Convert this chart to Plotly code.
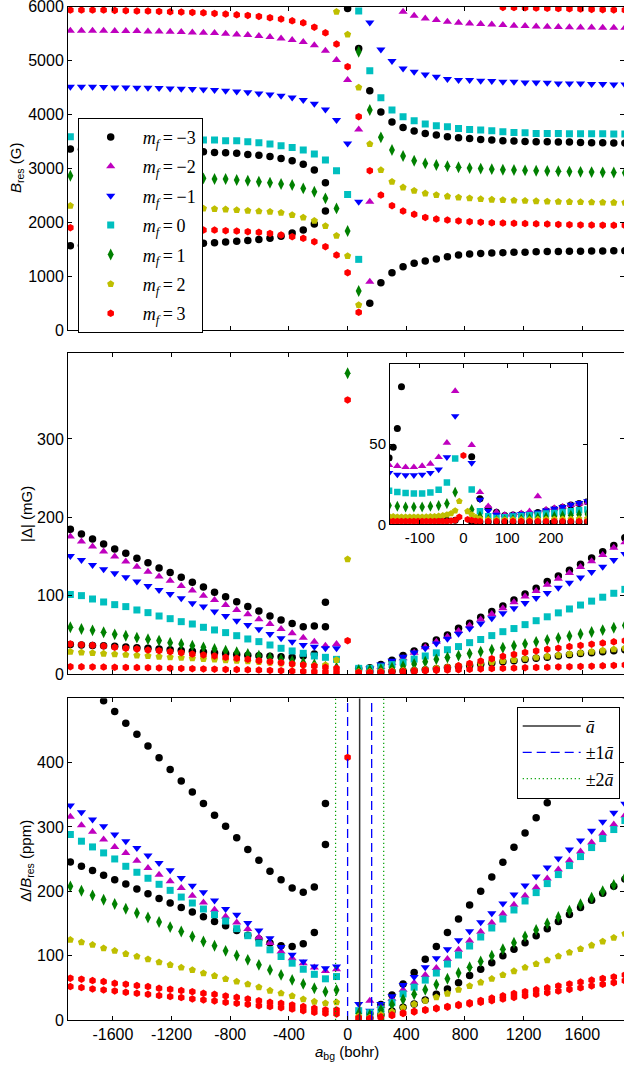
import plotly.graph_objects as go

N = None

# a_bg grid (bohr)
a_bg = [-1890.0, -1814.4, -1738.8, -1663.2, -1587.6, -1512.0, -1436.4, -1360.8, -1285.2, -1209.6,
        -1134.0, -1058.4, -982.8, -907.2, -831.6, -756.0, -680.4, -604.8, -529.2, -453.6,
        -378.0, -302.4, -226.8, -151.2, -75.6, 0.0, 75.6, 151.2, 226.8, 302.4,
        378.0, 453.6, 529.2, 604.8, 680.4, 756.0, 831.6, 907.2, 982.8, 1058.4,
        1134.0, 1209.6, 1285.2, 1360.8, 1436.4, 1512.0, 1587.6, 1663.2, 1738.8, 1814.4, 1890.0]

# ---------------- top panel: B_res (G) ----------------
B_m3_a = [3358, 3355, 3352, 3349, 3346, 3343, 3340, 3337, 3333, 3328, 3322, 3315, 3308, 3296, 3290, 3278, 3259, 3241, 3220, 3185,
          3140, 3078, 2968, 2733, N, 5968, 5226, 4440, 4045, 3859, 3760, 3692, 3649, 3618, 3587, 3568, 3556, 3537, 3525, 3513,
          3506, 3500, 3494, 3494, 3488, 3488, 3482, 3476, 3476, 3470, 3469]
B_m3_b = [1565, 1570, 1572, 1575, 1578, 1580, 1583, 1587, 1590, 1595, 1600, 1605, 1608, 1620, 1633, 1645, 1660, 1680, 1701, 1740,
          1800, 1855, 1966, 2208, N, N, N, 495, 878, 1063, 1175, 1237, 1280, 1317, 1361, 1391, 1410, 1422, 1428, 1435,
          1441, 1445, 1453, 1455, 1457, 1460, 1462, 1465, 1467, 1470, 1472]
B_m2_a = [5553, 5553, 5553, 5553, 5547, 5547, 5547, 5541, 5541, 5535, 5529, 5522, 5516, 5510, 5498, 5485, 5473, 5455, 5436, 5411,
          5380, 5345, 5285, 5182, 5009, 4638, 3723, 2381, N, N, N, N, N, N, N, N, N, N, N, N,
          N, N, N, N, N, N, N, N, N, N, N]
B_m2_b = [N, N, N, N, N, N, N, N, N, N, N, N, N, N, N, N, N, N, N, N,
          N, N, N, N, N, N, N, 897, N, N, 5906, 5832, 5782, 5751, 5720, 5702, 5690, 5677, 5671, 5659,
          5646, 5640, 5634, 5628, 5622, 5618, 5615, 5612, 5610, 5609, 5608]
B_m1_a = [4515, 4515, 4515, 4508, 4502, 4502, 4496, 4496, 4490, 4484, 4477, 4471, 4465, 4453, 4440, 4428, 4410, 4391, 4372, 4348,
          4317, 4270, 4200, 4094, 3896, 3463, 2381, N, N, N, N, N, N, N, N, N, N, N, N, N,
          N, N, N, N, N, N, N, N, N, N, N]
B_m1_b = [N, N, N, N, N, N, N, N, N, N, N, N, N, N, N, N, N, N, N, N,
          N, N, N, N, N, N, N, 5708, 5207, 4991, 4855, 4793, 4743, 4700, 4657, 4638, 4638, 4626, 4620, 4607,
          4607, 4595, 4595, 4589, 4576, 4576, 4576, 4564, 4564, 4558, 4555]
B_0_a = [3587, 3583, 3580, 3577, 3573, 3570, 3565, 3560, 3555, 3548, 3540, 3532, 3525, 3525, 3513, 3513, 3494, 3476, 3451, 3420,
         3389, 3340, 3265, 3154, 2956, 2517, 1311, N, N, N, N, N, N, N, N, N, N, N, N, N,
         N, N, N, N, N, N, N, N, N, N, N]
B_0_b = [N, N, N, N, N, N, N, N, N, N, N, N, N, N, N, N, N, N, N, N,
         N, N, N, N, N, N, 5918, 4811, 4310, 4082, 3958, 3884, 3822, 3791, 3772, 3741, 3723, 3711, 3698, 3680,
         3667, 3661, 3649, 3649, 3649, 3643, 3643, 3643, 3640, 3636, 3636]
B_p1_a = [2863, 2860, 2857, 2854, 2850, 2847, 2843, 2839, 2834, 2829, 2824, 2819, 2814, 2801, 2801, 2783, 2770, 2752, 2733, 2709,
          2690, 2628, 2566, 2443, 2257, 1837, 723, N, N, N, N, N, N, N, N, N, N, N, N, N,
          N, N, N, N, N, N, N, N, N, N, N]
B_p1_b = [N, N, N, N, N, N, N, N, N, N, N, N, N, N, N, N, N, N, N, N,
          N, N, N, N, N, N, 5164, 4082, 3575, 3340, 3228, 3141, 3092, 3061, 3040, 3020, 3005, 2995, 2985, 2975,
          2968, 2962, 2955, 2950, 2945, 2940, 2935, 2930, 2926, 2922, 2919]
B_p2_a = [2307, 2303, 2300, 2297, 2294, 2290, 2286, 2282, 2278, 2273, 2268, 2263, 2257, 2245, 2239, 2226, 2214, 2203, 2195, 2177,
          2134, 2090, 2028, 1930, 1750, 1373, 464, N, N, N, N, N, N, N, N, N, N, N, N, N,
          N, N, N, N, N, N, N, N, N, N, N]
B_p2_b = [N, N, N, N, N, N, N, N, N, N, N, N, N, N, N, N, N, N, N, N,
          N, N, N, N, 5906, 5485, 4502, 3451, 2968, 2752, 2647, 2585, 2536, 2505, 2480, 2460, 2445, 2430, 2420, 2412,
          2405, 2398, 2392, 2387, 2382, 2378, 2374, 2370, 2367, 2364, 2362]
B_p3_a = [5937, 5937, 5937, 5937, 5931, 5925, 5918, 5918, 5912, 5906, 5900, 5894, 5887, 5875, 5863, 5850, 5838, 5819, 5795, 5770,
          5739, 5700, 5620, 5516, 5306, 4886, 3958, 2956, 2505, 2307, 2208, 2146, 2090, 2059, 2040, 2025, 2010, 2000, 1990, 1985,
          1980, 1975, 1970, 1965, 1960, 1955, 1950, 1948, 1945, 1942, 1940]
B_p3_b = [1899, 1895, 1892, 1890, 1887, 1884, 1880, 1877, 1873, 1869, 1865, 1860, 1855, 1855, 1843, 1837, 1824, 1812, 1793, 1763,
          1732, 1701, 1639, 1546, 1391, 1064, 328, N, N, N, N, N, N, N, N, N, N, N, N, 5987,
          5985, 5980, 5975, 5970, 5965, 5960, 5955, 5950, 5945, 5940, 5937]

# ---------------- middle panel: |Delta| (mG) ----------------
D_m3_a = [184.7, 178.7, 172.3, 166, 159.6, 154, 147.7, 142, 135.3, 129.4, 123.4, 117, 111, 104.3, 98.7, 92.3, 86, 80.4, 74, 69,
          64.3, 60.4, 61.3, 60.4, N, N, 7, 8, 12, 17.5, 23.5, 29.5, 35.7, 43.4, 49.8, 58.3, 64.7, 72.3, 79.6, 86.8,
          94.5, 102, 109.4, 117.9, 125, 132.5, 140, 148, 156, 164, 174]
D_m3_b = [37.5, 37, 36.5, 36, 35.3, 34.5, 33.6, 32.7, 31.8, 30.9, 30, 29, 28, 27, 26, 25, 24, 23.2, 22.5, 22,
          21.5, 23, 25.5, 91.5, N, N, N, 2.5, 3, 3.5, 4, 4.6, 5.5, 6.8, 8.2, 9.6, 11, 12.5, 14, 15.5,
          17, 18.5, 20, 21.5, 23, 24.5, 26, 27.2, 28.4, 29.6, 30.8]
D_m2_a = [175.3, 169, 162.6, 156.2, 149.8, 143.4, 137, 130.6, 124.3, 119, 112.3, 106.4, 100, 94.5, 88, 81.7, 76.2, 69.8, 63.8, 57.4,
          52, 46.4, 41.3, 36, 38.3, N, N, N, N, N, N, N, N, N, N, N, N, N, N, N,
          N, N, N, N, N, N, N, N, N, N, N]
D_m2_b = [N, N, N, N, N, N, N, N, N, N, N, N, N, N, N, N, N, N, N, N,
          N, N, N, N, N, N, N, 6, 9, 14, 20, 27, 34, 41, 47.5, 55, 62, 69.5, 76.5, 84,
          91.5, 99, 106, 114, 121.5, 129, 136.5, 144, 152, 161, 168]
D_m1_a = [150.6, 145.5, 139, 133.6, 128.5, 123.4, 117.9, 112.3, 107.2, 102, 96.6, 90.2, 86, 79.6, 74, 68, 62.6, 57, 51, 45.5,
          41.3, 37, 34.9, 32.8, 32.8, N, N, N, N, N, N, N, N, N, N, N, N, N, N, N,
          N, N, N, N, N, N, N, N, N, N, N]
D_m1_b = [N, N, N, N, N, N, N, N, N, N, N, N, N, N, N, N, N, N, N, N,
          N, N, N, N, N, N, N, 7, 12, 17, 22, 27.5, 33, 39, 45, 51.5, 58, 64.5, 71, 77.5,
          84, 90.5, 97, 103.5, 110, 116.5, 123, 130, 137, 145.5, 153]
D_0_a = [101.5, 100, 95.7, 91.9, 88.5, 86, 81.7, 78.3, 74, 70.6, 66.8, 63.8, 59.6, 56.2, 52.8, 48.9, 44.7, 41.3, 37, 32.8,
         29.4, 26.4, 23, 21.3, 18.7, N, N, N, N, N, N, N, N, N, N, N, N, N, N, N,
         N, N, N, N, N, N, N, N, N, N, N]
D_0_b = [N, N, N, N, N, N, N, N, N, N, N, N, N, N, N, N, N, N, N, N,
         N, N, N, N, N, N, 7.2, 7.2, 9, 12, 15, 19, 23, 27, 31, 35, 40, 44, 49, 54,
         58, 63, 68, 73, 78, 83, 88, 93, 98, 103, 108]
D_p1_a = [59.6, 57.4, 55.7, 53.2, 50.6, 48.9, 46.4, 44.3, 42.6, 40, 38.3, 36.2, 34, 31.9, 29.8, 27.7, 25.5, 23.4, 20.9, 18.7,
          16.6, 14.5, 12.3, 9.4, 8.1, 383.8, N, N, N, N, N, N, N, N, N, N, N, N, N, N,
          N, N, N, N, N, N, N, N, N, N, N]
D_p1_b = [N, N, N, N, N, N, N, N, N, N, N, N, N, N, N, N, N, N, N, N,
          N, N, N, N, N, N, 5, 5, 6, 8, 10, 12.8, 15.7, 18.7, 21, 23.5, 26, 28.5, 31, 33.5,
          36, 38.5, 41, 43.5, 46, 48.5, 51, 53.5, 56, 59, 62]
D_p2_a = [28.5, 27.5, 26.8, 26, 25.3, 24.5, 23.8, 23, 22.2, 21.5, 20.7, 20, 19.2, 18.5, 17.7, 17, 16.2, 15.5, 14.5, 13.5,
          12.5, 11.5, 11, 11.5, 17.9, 146.4, N, N, N, N, N, N, N, N, N, N, N, N, N, N,
          N, N, N, N, N, N, N, N, N, N, N]
D_p2_b = [N, N, N, N, N, N, N, N, N, N, N, N, N, N, N, N, N, N, N, N,
          N, N, N, N, N, N, 3, 3, 3.5, 4, 4.5, 5, 6, 7.5, 9, 10.5, 12, 13.5, 15, 16.5,
          18, 19.5, 21, 22.5, 24, 25.5, 27, 28.5, 30, 31.5, 33]
D_p3_a = [38.3, 37.4, 36.6, 35.7, 34, 32.8, 31.9, 30.6, 29.8, 28.5, 27.2, 25.5, 24.3, 23, 21.3, 20, 18.7, 17, 15.7, 14.5,
          12.8, 11.5, 10.2, 8.5, 7.2, 349.8, 2, 2, 2.5, 3, 3.5, 4, 5, 6, 8, 10.5, 13.5, 16.5, 19.5, 22.5,
          25, 27.5, 29.5, 31.5, 33, 35, 36.5, 38, 39.5, 41, 42.5]
D_p3_b = [9.4, 9.2, 9.0, 8.8, 8.6, 8.4, 8.2, 8.0, 7.7, 7.4, 7.1, 6.8, 6.5, 6.2, 5.9, 5.6, 5.3, 5.0, 4.6, 4.2,
          3.8, 3.4, 3.0, 2.6, 2.2, 42.5, 1.5, 1.5, 2, 2.5, 3, 3.5, 4, 4.5, 5, 5.5, 6, 6.5, 7, 7.2,
          7.5, 8, 8.3, 8.6, 9, 9.3, 9.7, 10, 10.5, 11, 11.5]

# ---------------- bottom panel: Delta/B_res (ppm) ----------------
R_m3_a = [549, 531, 514, 496, 479.4, 461.2, 444, 425.9, 407.7, 389.5, 371.4, 354.2, 336.6, 318.4, 301.2, 283.1, 264.9, 248.3, 231.1, 218.1,
          205.2, 198.4, 206.7, 272.7, N, N, N, 10, 24, 39, 56.1, 73.8, 94.5, 114.3, 136, 156.9, 178.7, 200, 222.3, 245.1,
          268.5, 290.8, 314.2, 337.6, 360, 383, 406, 429, 452, 480, 505]
R_m3_b = [245.7, 238.9, 232.2, 224.9, 218.1, 211.4, 203.6, 196.3, 189, 181.8, 175, 167.8, 160.5, 153.2, 146.5, 139.2, 131.9, 125.7, 119.5, 115.3,
          114.3, 118.4, 136.1, 336.6, N, N, N, 3, 8, 14, 20, 25, 31, 40, 48, 58, 69, 79, 89, 100,
          110, 120, 131, 142, 153, 164, 175, 186, 197, 208, 219]
R_m2_a = [315.8, 302.8, 292.4, 280.5, 269, 259.7, 247.7, 236.3, 225.9, 215.5, 205.2, 193.2, 182.8, 171.4, 161, 151.7, 141.3, 128.8, 119.5, 106.5,
          96.1, 88.3, 81.5, 76, 79, N, N, N, N, N, N, N, N, N, N, N, N, N, N, N,
          N, N, N, N, N, N, N, N, N, N, N]
R_m2_b = [N, N, N, N, N, N, N, N, N, N, N, N, N, N, N, N, N, N, N, N,
          N, N, N, N, N, N, N, 30, 22, 33, 47, 58, 70, 81, 95, 109, 123, 137, 151, 165,
          179, 193, 206, 220, 234, 248, 262, 276, 290, 304, 318]
R_m1_a = [333.4, 323, 311.6, 301.2, 288.3, 277.9, 267.5, 255.5, 244.1, 232.7, 220.7, 208.8, 198.4, 185.9, 172.4, 163.6, 150.6, 139.2, 127.2, 113.6,
          101.3, 90.9, 83.1, 80.5, 83, N, 25, N, N, N, N, N, N, N, N, N, N, N, N, N,
          N, N, N, N, N, N, N, N, N, N, N]
R_m1_b = [N, N, N, N, N, N, N, N, N, N, N, N, N, N, N, N, N, N, N, N,
          N, N, N, N, N, N, N, 14.5, 25, 37, 54.5, 67, 82, 96, 110, 124, 138, 152, 166, 181,
          195, 209, 223, 237, 251, 265, 279, 294, 308, 322, 336]
R_0_a = [288.3, 277.9, 269, 259.7, 250.3, 238.9, 229.6, 220.3, 210.9, 201.5, 191.1, 181.8, 172.5, 163.6, 153.8, 142, 131, 119.5, 109.1, 98.7,
         88.3, 78.9, 71, 64, 67.5, N, N, N, N, N, N, N, N, N, N, N, N, N, N, N,
         N, N, N, N, N, N, N, N, N, N, N]
R_0_b = [N, N, N, N, N, N, N, N, N, N, N, N, N, N, N, N, N, N, N, N,
         N, N, N, N, N, N, 14.5, 11.4, 16.6, 27, 40.5, 51, 62, 73, 87, 101, 115, 129, 143, 157,
         171, 185, 198, 212, 226, 240, 254, 268, 282, 296, 310]
R_p1_a = [207.7, 201, 193.7, 187, 180.2, 173, 166.2, 159.4, 152.2, 144.4, 137.6, 129.8, 122, 115.3, 107.5, 100.3, 93.5, 85.7, 77.9, 70.1,
          62.3, 56.1, 49.3, 44.1, 46.7, N, N, N, N, N, N, N, N, N, N, N, N, N, N, N,
          N, N, N, N, N, N, N, N, N, N, N]
R_p1_b = [N, N, N, N, N, N, N, N, N, N, N, N, N, N, N, N, N, N, N, N,
          N, N, N, N, N, N, 10, 8, 16, 24, 32, 40, 47, 55, 64, 73, 82, 91, 100, 110,
          120, 130, 140, 150, 160, 170, 180, 190, 200, 210, 221]
R_p2_a = [124.6, 121, 116.9, 111.7, 107.5, 102.8, 98.7, 94.5, 89.9, 85.7, 81.5, 77.9, 72.7, 68.6, 63.9, 59.7, 55.6, 50.9, 45.7, 41.5,
          37.4, 32.2, 28.6, 26, 27.5, N, N, N, N, N, N, N, N, N, N, N, N, N, N, N,
          N, N, N, N, N, N, N, N, N, N, N]
R_p2_b = [N, N, N, N, N, N, N, N, N, N, N, N, N, N, N, N, N, N, N, N,
          N, N, N, N, N, N, 6, 4, 8, 13, 19, 24.5, 30, 35.5, 41, 47, 53, 58.5, 64, 70,
          76, 81.5, 87, 93, 99, 105, 110.5, 116, 122, 128, 134]
R_p3_a = [64.9, 63.4, 61.3, 59.7, 57.1, 55.6, 53.5, 51.9, 49.3, 47.8, 45.7, 44.1, 41.5, 40, 37.4, 35.3, 32.7, 30.1, 27.5, 26,
          23.4, 20.8, 18.2, 15.6, 15.6, 408, 3, 2, 4, 7, 10, 12.5, 15, 17.5, 20, 22.5, 25, 27.5, 30, 32.5,
          35, 37.5, 40, 42.5, 45, 47.5, 50, 53, 55.5, 58, 61]
R_p3_b = [51.9, 50.4, 48.3, 46.7, 45.2, 43.1, 41.5, 40, 37.9, 36.4, 34.8, 32.7, 31.2, 29.6, 27.5, 26, 24.4, 22.3, 20.8, 19.2,
          17.1, 14.5, 11.9, 10.4, 9.4, N, 3, 2.5, 5, 8, 11, 13.5, 16, 18.5, 21, 24, 27, 30.5, 34, 37.5,
          41, 44, 47, 50, 53, 56, 59, 62, 64.5, 67, 70]

# ---------------- inset: |Delta| (mG) near a_bg ~ 0 ----------------
inset_x = [-170.1, -151.2, -132.3, -113.4, -94.5, -75.6, -56.7, -37.8, -18.9, 0.0, 18.9, 37.8, 56.7,
           75.6, 94.5, 113.4, 132.3, 151.2, 170.1, 189.0, 207.9, 226.8, 245.7, 264.6, 283.5]
inset_xf = [-160.65, -141.75, -122.85, -103.95, -85.05, -66.15, -47.25, -28.35, -9.45, 9.45, 28.35]
I_m3 = [41.4, 59.8, N, N, N, N, N, N, N, N, 42.1, 16, 10, 7.5, 5.5, 5.8, 6.2, 6.6, 7.3, 8.5, 9.6, 10.6, 12, 13, 14]
I_m3_low = [2.5, 2.5, 2.5, 2.5, 2.5, 2.5, 2.5, 2.5, 2.5, N, 1.5, 1.5, 1.5, 1.5, 1.5, 1.5, 1.5, 1.5, 1.5, 1.5, 1.5, 1.5, 1.5, 1.5, 1.5]
I_m3_f = [48, 85.8, N, N, N, N, N, N, N, N, N]
I_m2 = [36.9, 36.3, 35.6, 35.6, 36.3, 37.7, 41.9, 50.8, 83.1, N, 49.4, 20, 11.3, 7.7, 6, 6, 6.9, 8.1, 17.5, 9.2, 10.2, 11, 11.9, 12.7, 13.5]
I_m1 = [32.1, 31, 30.6, 30.6, 31, 32.1, 34.2, 41.9, 67.5, N, 38.3, 15.4, 8.5, 6, 5, 6, 6.5, 6.7, 7.5, 8.75, 9.8, 10.8, 12.3, 13.3, 14.4]
I_0 = [21, 20.2, 19.6, 19.2, 19.2, 19.8, 21.5, 26, 41, N, 21.7, 8.1, 5, 4, 4.4, 4.8, 5.2, 5.6, 6, 6.7, 7.1, 7.7, 8.1, 8.75, 9.2]
I_p1 = [11.7, 11.25, 10.8, 10.8, 10.8, 11.25, 11.7, 12.9, 20, N, 9.2, 5, 2.9, 2.3, 2.5, 2.9, 3.1, 3.5, 4, 4.4, 4.8, 5.2, 5.6, 6, 6.5]
I_p2 = [5, 4.6, 4.6, 4.6, 4.6, 4.8, 5.2, 6, 8.5, N, 6, 3.5, 3, 2.9, 2.9, 3, 3, 3, 3.1, 3.1, 3.2, 3.3, 3.3, 3.4, 3.5]
I_p2_f = [4.8, 4.6, 4.6, 4.6, 4.7, 4.9, 5.5, 6.8, 14.4, 8.1, 4.4]
I_p3 = [1.9, 1.9, 1.9, 1.9, 1.9, 1.9, 1.9, 1.9, 2.5, 42.9, 2.5, 1.9, 1.9, 1.9, 1.9, 1.9, 1.9, 1.9, 1.9, 1.9, 1.9, 1.9, 1.9, 1.9, 1.9]
I_p3_f = [1.9, 1.9, 1.9, 1.9, 1.9, 1.9, 1.9, 2.2, 4.5, 3.0, 2.0]

a_bar = 82.0  # mean scattering length (bohr)

x_ticks = [-1600, -1200, -800, -400, 0, 400, 800, 1200, 1600]
x_ticktext = ["-1600", "-1200", "-800", "-400", "0", "400", "800", "1200", "1600"]

mf_labels = ["\u22123", "\u22122", "\u22121", "0", "1", "2", "3"]
colors = ["#000000", "#bf00bf", "#0000ff", "#00bfbf", "#008000", "#bfbf00", "#ff0000"]
symbols = ["circle", "triangle-up", "triangle-down", "square", "diamond-tall", "pentagon", "hexagon"]
sizes = [7.5, 8, 8, 7, 8.5, 7.5, 7.5]

top = [(B_m3_a, B_m3_b), (B_m2_a, B_m2_b), (B_m1_a, B_m1_b), (B_0_a, B_0_b),
       (B_p1_a, B_p1_b), (B_p2_a, B_p2_b), (B_p3_a, B_p3_b)]
mid = [(D_m3_a, D_m3_b), (D_m2_a, D_m2_b), (D_m1_a, D_m1_b), (D_0_a, D_0_b),
       (D_p1_a, D_p1_b), (D_p2_a, D_p2_b), (D_p3_a, D_p3_b)]
bot = [(R_m3_a, R_m3_b), (R_m2_a, R_m2_b), (R_m1_a, R_m1_b), (R_0_a, R_0_b),
       (R_p1_a, R_p1_b), (R_p2_a, R_p2_b), (R_p3_a, R_p3_b)]
ins = [[(inset_x, I_m3), (inset_x, I_m3_low), (inset_xf, I_m3_f)],
       [(inset_x, I_m2)], [(inset_x, I_m1)], [(inset_x, I_0)], [(inset_x, I_p1)],
       [(inset_x, I_p2), (inset_xf, I_p2_f)],
       [(inset_x, I_p3), (inset_xf, I_p3_f)]]


def pairs(xs_list):
    xs, ys = [], []
    for xv, yv in xs_list:
        for a, b in zip(xv, yv):
            if b is not None:
                xs.append(a)
                ys.append(b)
    return xs, ys


fig = go.Figure()
for i in range(7):
    lab = "<i>m</i><sub><i>f</i></sub>\u2009=\u2009" + mf_labels[i]
    mk = dict(color=colors[i], symbol=symbols[i], size=sizes[i], line=dict(width=0))
    for panel, (xa, ya), data in [(0, ("x", "y"), top[i]), (1, ("x2", "y2"), mid[i]), (2, ("x3", "y3"), bot[i])]:
        xs, ys = pairs([(a_bg, data[0]), (a_bg, data[1])])
        fig.add_trace(go.Scatter(x=xs, y=ys, mode="markers", marker=mk, name=lab,
                                 legendgroup="mf%d" % i, showlegend=(panel == 0), legend="legend",
                                 xaxis=xa, yaxis=ya))
    xs, ys = pairs(ins[i])
    fig.add_trace(go.Scatter(x=xs, y=ys, mode="markers", marker=dict(mk, size=sizes[i] - 0.5), name=lab,
                             legendgroup="mf%d" % i, showlegend=False, xaxis="x4", yaxis="y4"))

# vertical reference lines
yl = [0, 500]
fig.add_trace(go.Scatter(x=[a_bar, a_bar], y=yl, mode="lines", line=dict(color="#333333", width=1.5),
                         name="<i>\u0101</i>", legend="legend2", xaxis="x3", yaxis="y3"))
fig.add_trace(go.Scatter(x=[0 * a_bar, 0 * a_bar, None, 2 * a_bar, 2 * a_bar], y=[0, 500, None, 0, 500], mode="lines",
                         line=dict(color="#0000ff", width=1.3, dash="9px,5px"),
                         name="\u00b11<i>\u0101</i>", legend="legend2", xaxis="x3", yaxis="y3"))
fig.add_trace(go.Scatter(x=[-a_bar, -a_bar, None, 3 * a_bar, 3 * a_bar], y=[0, 500, None, 0, 500], mode="lines",
                         line=dict(color="#00a000", width=1.2, dash="1.2px,2.8px"),
                         name="\u00b12<i>\u0101</i>", legend="legend2", xaxis="x3", yaxis="y3"))

H = 1065.0
W = 624.0
L = 68.0


def ydom(top_px, bot_px):
    return [1 - bot_px / H, 1 - top_px / H]


axis_common = dict(showline=True, linecolor="black", linewidth=1, mirror="ticks", ticks="inside",
                   ticklen=4, tickwidth=1, tickcolor="black", showgrid=False, zeroline=False,
                   automargin=False, ticklabeloverflow="allow",
                   tickfont=dict(family="Liberation Sans", size=16, color="black"))
xr = [-1906, 1884]

fig.update_layout(
    width=624, height=1065,
    margin=dict(l=68, r=0, t=0, b=0, autoexpand=False),
    paper_bgcolor="white", plot_bgcolor="white",
    font=dict(family="Liberation Sans", size=16, color="black"),
    xaxis=dict(axis_common, domain=[0, 1], range=xr, anchor="y", tickvals=x_ticks, showticklabels=False),
    xaxis2=dict(axis_common, domain=[0, 1], range=xr, anchor="y2", tickvals=x_ticks, showticklabels=False),
    xaxis3=dict(axis_common, domain=[0, 1], range=xr, anchor="y3", tickvals=x_ticks, ticktext=x_ticktext),
    yaxis=dict(axis_common, domain=ydom(6.7, 330), range=[0, 6000], anchor="x",
               tickvals=[0, 1000, 2000, 3000, 4000, 5000, 6000]),
    yaxis2=dict(axis_common, domain=ydom(352.7, 674), range=[0, 410], anchor="x2",
                tickvals=[0, 100, 200, 300]),
    yaxis3=dict(axis_common, domain=ydom(698.3, 1020), range=[0, 500], anchor="x3",
                tickvals=[0, 100, 200, 300, 400]),
    xaxis4=dict(axis_common, domain=[(390 - L) / (W - L), (586.7 - L) / (W - L)], range=[-168, 282], anchor="y4",
                tickvals=[-100, 0, 100, 200], ticktext=["-100", "0", "100", "200"],
                tickfont=dict(family="Liberation Sans", size=15, color="black")),
    yaxis4=dict(axis_common, domain=ydom(364, 524.3), range=[0, 100], anchor="x4",
                tickvals=[0, 50], tickfont=dict(family="Liberation Sans", size=15, color="black")),
    legend=dict(x=(77.7 - L) / (W - L), y=1 - 117.7 / H, xanchor="left", yanchor="top",
                bgcolor="white", bordercolor="black", borderwidth=1,
                font=dict(family="Liberation Serif", size=18, color="black"),
                tracegroupgap=3, itemwidth=54),
    legend2=dict(x=(516.7 - L) / (W - L), y=1 - 706.7 / H, xanchor="left", yanchor="top",
                 bgcolor="white", bordercolor="black", borderwidth=1,
                 font=dict(family="Liberation Serif", size=18, color="black"), itemwidth=58,
                 entrywidth=60, entrywidthmode="pixels"),
)

ann_font = dict(family="Liberation Sans", size=15, color="black")
fig.add_annotation(text="<i>B</i><sub>res</sub> (G)", x=(16 - L) / (W - L), y=1 - 168 / H,
                   xref="paper", yref="paper", textangle=-90, showarrow=False, font=ann_font,
                   xanchor="center", yanchor="middle")
fig.add_annotation(text="|\u0394| (mG)", x=(26 - L) / (W - L), y=1 - 514 / H,
                   xref="paper", yref="paper", textangle=-90, showarrow=False, font=ann_font,
                   xanchor="center", yanchor="middle")
fig.add_annotation(text="\u0394/<i>B</i><sub>res</sub> (ppm)", x=(26 - L) / (W - L), y=1 - 861 / H,
                   xref="paper", yref="paper", textangle=-90, showarrow=False, font=ann_font,
                   xanchor="center", yanchor="middle")
fig.add_annotation(text="<i>a</i><sub>bg</sub> (bohr)", x=(347 - L) / (W - L), y=1 - 1052 / H,
                   xref="paper", yref="paper", showarrow=False, font=ann_font,
                   xanchor="center", yanchor="middle")

fig.write_html("out.html", config={"displayModeBar": False},
               post_script="document.body.style.margin='0';document.body.style.padding='0';"
                           "document.body.style.overflow='hidden';")
